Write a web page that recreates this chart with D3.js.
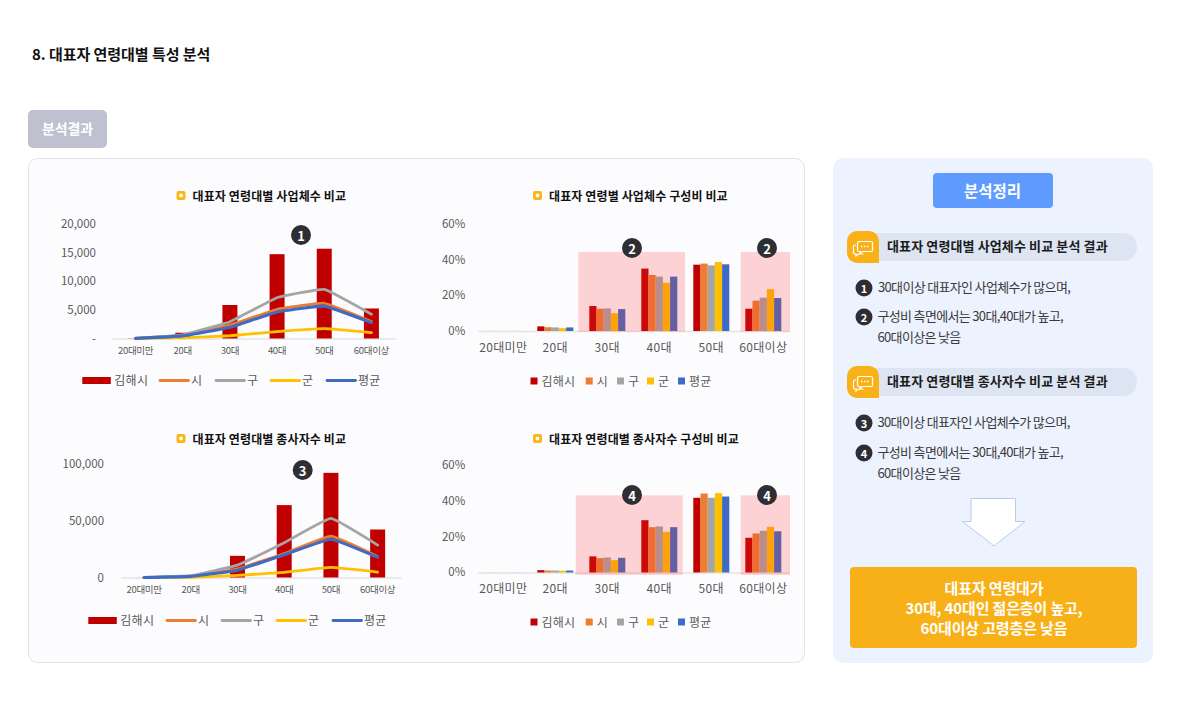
<!DOCTYPE html>
<html><head><meta charset="utf-8">
<style>html,body{margin:0;padding:0;background:#fff}svg{display:block}text{font-family:"Noto Sans CJK KR","Noto Sans",sans-serif}</style>
<script src="https://cdnjs.cloudflare.com/ajax/libs/d3/7.8.5/d3.min.js"></script>
</head><body><div id="c"></div>
<script>
const categories=["20대미만","20대","30대","40대","50대","60대이상"];
const seriesNames=["김해시","시","구","군","평균"];
const seriesColors=["#c00000","#ed7d31","#a5a5a5","#ffc000","#3f6cc2"];
// 사업체수
const bizKimhae=[30,1000,5800,14600,15550,5200];
const bizSi=[20,480,2300,5050,6100,2950];
const bizGu=[20,620,2900,7050,8500,4200];
const bizGun=[5,120,480,1200,1700,1000];
const bizAvg=[15,450,1950,4600,5600,2750];
// 종사자수
const empKimhae=[50,1500,19000,63500,91800,42100];
const empSi=[30,1000,7500,21000,36300,18500];
const empGu=[40,1600,10800,30500,51800,28400];
const empGun=[5,200,1800,4500,8800,4800];
const empAvg=[25,1000,6400,20000,33600,17800];
// 사업체수 구성비 (%)
const bizShareKimhae=[0.02,2.6,14.0,35.0,37.2,12.5];
const bizShareSi=[0.02,2.1,12.5,31.4,37.8,17.0];
const bizShareGu=[0.02,2.0,12.7,30.5,36.8,18.7];
const bizShareGun=[0.02,1.6,10.0,27.0,38.7,23.5];
const bizShareAvg=[0.02,2.0,12.3,30.5,37.4,18.5];
// 종사자수 구성비 (%)
const empShareKimhae=[0.02,1.3,9.0,29.2,41.7,19.4];
const empShareSi=[0.02,1.1,8.0,25.3,44.1,21.8];
const empShareGu=[0.02,1.1,8.4,25.7,41.7,23.3];
const empShareGun=[0.02,1.0,6.9,22.7,44.3,25.5];
const empShareAvg=[0.02,1.1,8.2,25.3,42.4,23.0];
const countTicks1=[0,5000,10000,15000,20000];
const countTicks2=[0,50000,100000];
const shareTicks=[0,20,40,60];

const FONT_C="#595959";
const svg=d3.select("#c").append("svg").attr("width",1181).attr("height",709).attr("viewBox","0 0 1181 709");
function T(x,y,s,o={}){
  return svg.append("text").attr("x",x).attr("y",y-.8).attr("dominant-baseline","central")
    .attr("font-size",o.size||13).attr("font-weight",o.weight||400).attr("fill",o.fill||"#222")
    .attr("text-anchor",o.anchor||"start").attr("letter-spacing",o.ls||0).text(s);
}
function R(x,y,w,h,r,fill,stroke){
  return svg.append("rect").attr("x",x).attr("y",y).attr("width",w).attr("height",h).attr("rx",r).attr("fill",fill).attr("stroke",stroke||"none");
}
function badge(cx,cy,n,r=10,size=13){
  svg.append("circle").attr("cx",cx).attr("cy",cy).attr("r",r).attr("fill","#2d2f34");
  T(cx,cy+.8,n,{size,weight:700,fill:"#fff",anchor:"middle"});
}
function chartTitle(x,y,s){
  R(x-4.5,y-4.5,9,9,2,"#fdb515");
  R(x-1.7,y-1.7,3.4,3.4,.5,"#fff");
  T(x+11.5,y+.5,s,{size:12,weight:700,fill:"#111",ls:.12});
}
// page frame
T(32,54,"8. 대표자 연령대별 특성 분석",{size:15,weight:700,fill:"#111",ls:-.05});
R(28,110,79,38,5,"#bfc0d0");
T(67.5,128.5,"분석결과",{size:14,weight:700,fill:"#fff",anchor:"middle",ls:-.1});
R(28.5,158.5,776,504,9,"#fcfcfe","#e2e3e8");
R(833,158,320,505,10,"#ecf2fe");

function lineChart(o){
  const x=d3.scaleBand().domain(categories).range(o.xr);
  const y=d3.scaleLinear().domain([0,o.max]).range(o.yr);
  const g=svg.append("g");
  g.append("g").attr("transform",`translate(${o.xr[0]},0)`)
    .call(d3.axisLeft(y).tickValues(o.ticks).tickSize(0).tickPadding(o.xr[0]-o.ylab).tickFormat(o.fmt))
    .call(a=>a.select(".domain").remove())
    .call(a=>a.selectAll("text").attr("font-size",11.5).attr("fill",FONT_C).attr("font-family",null).attr("dy","0.36em"));
  const ax=g.append("g").attr("transform",`translate(0,${o.yr[0]})`)
    .call(d3.axisBottom(x).tickSize(0).tickPadding(o.catPad));
  ax.select(".domain").attr("stroke","#e4e4e4").attr("stroke-width",1.4);
  ax.selectAll("text").attr("font-size",9.5).attr("fill",FONT_C).attr("font-family",null).attr("letter-spacing",-.3);
  g.selectAll(".bar").data(o.series[0]).join("rect")
    .attr("x",(d,i)=>x(categories[i])+x.bandwidth()/2-7.5)
    .attr("width",15).attr("y",d=>y(d)).attr("height",d=>y(0)-y(d)).attr("fill",seriesColors[0]);
  const ln=d3.line().x((d,i)=>x(categories[i])+x.bandwidth()/2).y(d=>y(d)).curve(d3.curveCardinal.tension(.72));
  o.series.slice(1).forEach((s,k)=>{
    g.append("path").attr("d",ln(s)).attr("fill","none").attr("stroke",seriesColors[k+1]).attr("stroke-width",k==3?3.1:2.8).attr("stroke-linecap","round");
  });
  // legend
  const L=o.legend;
  svg.append("rect").attr("x",L.x0).attr("y",L.y-3.5).attr("width",28.5).attr("height",7).attr("fill",seriesColors[0]);
  T(L.x0+32,L.y,seriesNames[0],{size:12,fill:FONT_C,ls:.25});
  L.lines.forEach((lx,k)=>{
    svg.append("line").attr("x1",lx).attr("x2",lx+28.5).attr("y1",L.y).attr("y2",L.y)
      .attr("stroke",seriesColors[k+1]).attr("stroke-width",2.8).attr("stroke-linecap","round");
    T(lx+31,L.y,seriesNames[k+1],{size:12,fill:FONT_C,ls:.25});
  });
}
function barChart(o){
  const x=d3.scaleBand().domain(categories).range([477.3,789.3]);
  const y=d3.scaleLinear().domain([0,60]).range(o.yr);
  const inner=d3.scaleBand().domain(seriesNames).range([-18,18]);
  const g=svg.append("g");
  g.append("g").attr("transform","translate(477.3,0)")
    .call(d3.axisLeft(y).tickValues(shareTicks).tickSize(0).tickPadding(12).tickFormat(d=>d+"%"))
    .call(a=>a.select(".domain").remove())
    .call(a=>a.selectAll("text").attr("font-size",11.5).attr("fill",FONT_C).attr("font-family",null).attr("dy","0.3em"));
  const ax=g.append("g").attr("transform",`translate(0,${o.yr[0]})`)
    .call(d3.axisBottom(x).tickSize(0).tickPadding(12));
  ax.select(".domain").attr("stroke","#e4e4e4").attr("stroke-width",1.4);
  ax.selectAll("text").attr("font-size",12).attr("fill",FONT_C).attr("font-family",null).attr("letter-spacing",.35);
  o.series.forEach((s,k)=>{
    g.append("g").selectAll("rect").data(s).join("rect")
      .attr("x",(d,i)=>x(categories[i])+x.bandwidth()/2+inner(seriesNames[k]))
      .attr("width",inner.bandwidth()).attr("y",d=>y(d)).attr("height",d=>y(0)-y(d)).attr("fill",seriesColors[k]);
  });
  o.bands.forEach(b=>R(b[0],o.band[0],b[1]-b[0],o.band[1]-o.band[0],0,"rgba(255,45,45,.2)"));
  // legend
  const lx=[530.5,585.7,617,647,678];
  seriesNames.forEach((n,k)=>{
    svg.append("rect").attr("x",lx[k]).attr("y",o.ly-3.5).attr("width",7).attr("height",7).attr("fill",seriesColors[k]);
    T(lx[k]+11,o.ly,n,{size:12,fill:FONT_C,ls:.2});
  });
}
chartTitle(181,195.5,"대표자 연령대별 사업체수 비교");
lineChart({xr:[112,395],yr:[338.5,223],max:20000,ticks:countTicks1,ylab:96,catPad:9,
  fmt:d=>d===0?"-":d3.format(",")(d),series:[bizKimhae,bizSi,bizGu,bizGun,bizAvg],
  legend:{x0:82.3,y:380.5,lines:[160,216,271,327]}});
badge(301,235,"1");
chartTitle(181,438.5,"대표자 연령대별 종사자수 비교");
lineChart({xr:[120.7,401],yr:[577.5,463.5],max:100000,ticks:countTicks2,ylab:104,catPad:9,
  fmt:d3.format(","),series:[empKimhae,empSi,empGu,empGun,empAvg],
  legend:{x0:88.3,y:620.5,lines:[167,222,277,333]}});
badge(302.7,470,"3");
chartTitle(537.5,195.5,"대표자 연령별 사업체수 구성비 비교");
barChart({yr:[331,224],series:[bizShareKimhae,bizShareSi,bizShareGu,bizShareGun,bizShareAvg],
  bands:[[578.3,685],[740.7,790]],band:[252,331.7],ly:381});
badge(632,248,"2");badge(767,248,"2");
chartTitle(537.5,438.5,"대표자 연령대별 종사자수 구성비 비교");
barChart({yr:[572.5,465],series:[empShareKimhae,empShareSi,empShareGu,empShareGun,empShareAvg],
  bands:[[575.7,682.7],[740.7,790]],band:[495.3,575],ly:622});
badge(632,495,"4");badge(767,495,"4");

// right panel
R(933,173,120,35,4,"#5f9bff");
T(992.5,190.5,"분석정리",{size:15.5,weight:700,fill:"#fff",anchor:"middle"});
function header(y,s){
  R(847,y+2,290,28,14,"#dee5f2");
  svg.append("path").attr("d",`M857 ${y}H869a10 10 0 0 1 10 10V${y+32}H857a10 10 0 0 1 -10 -10V${y+10}a10 10 0 0 1 10 -10Z`).attr("fill","#f9b118");
  const g=svg.append("g").attr("transform",`translate(853,${y+9})`).attr("fill","none").attr("stroke","#fff").attr("stroke-width",1.2);
  g.append("path").attr("d","M5 1.5h13a1.5 1.5 0 0 1 1.5 1.5v7a1.5 1.5 0 0 1 -1.5 1.5h-9l-2 2v-2h-1a1.5 1.5 0 0 1 -1.5 -1.5v-7a1.5 1.5 0 0 1 1.5 -1.5z");
  g.append("path").attr("d","M3 5h-1a1.5 1.5 0 0 0 -1.5 1.5v6a1.5 1.5 0 0 0 1.5 1.5h1v2l2.5 -2h5");
  g.append("path").attr("stroke-dasharray","1.5 1.5").attr("stroke-width",1.5).attr("d","M8 6.5h8");
  T(887,y+15.5,s,{size:13,weight:700,fill:"#1c1c1c",ls:.12});
}
const item={size:13,fill:"#3a3a3a",ls:-.67,weight:400};
header(231,"대표자 연령대별 사업체수 비교 분석 결과");
badge(864,288,"1",8.5,11);T(878,287.5,"30대이상 대표자인 사업체수가 많으며,",item);
badge(864,317,"2",8.5,11);T(877.5,316.5,"구성비 측면에서는 30대,40대가 높고,",item);
T(877.5,337,"60대이상은 낮음",item);
header(366,"대표자 연령대별 종사자수 비교 분석 결과");
badge(864,423,"3",8.5,11);T(877.5,422.5,"30대이상 대표자인 사업체수가 많으며,",item);
badge(864,453,"4",8.5,11);T(877.5,452.5,"구성비 측면에서는 30대,40대가 높고,",item);
T(877.5,473,"60대이상은 낮음",item);
svg.append("path").attr("d","M971 498.5H1015.5V521.5H1025L994 546L962.5 521.5H971Z").attr("fill","#fff").attr("stroke","#b9cbe9").attr("stroke-width",1);
R(850,567,287,81,4,"#f8b018");
["대표자 연령대가","30대, 40대인 젊은층이 높고,","60대이상 고령층은 낮음"].forEach((s,i)=>
  T(994,[588,608,628.5][i],s,{size:15,weight:700,fill:"#fff",anchor:"middle",ls:-.15}));
</script></body></html>
